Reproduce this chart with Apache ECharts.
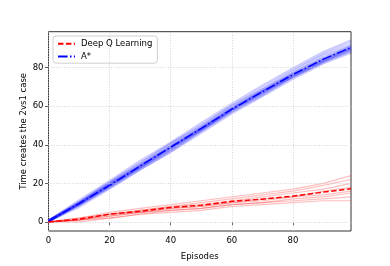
<!DOCTYPE html>
<html>
<head>
<meta charset="utf-8">
<script src="https://cdn.jsdelivr.net/npm/echarts@6/dist/echarts.min.js"></script>
<style>html,body{margin:0;padding:0;background:#fff}#c{width:390px;height:266px}</style>
</head>
<body>
<div id="c"></div>
<script>
const episodes = [0, 10, 20, 30, 40, 50, 60, 70, 80, 90, 99];
const xTicks = [0, 20, 40, 60, 80];
const yTicks = [0, 20, 40, 60, 80];

const dqnMean = [0, 1.5, 4, 5.5, 7.5, 8.7, 10.7, 11.8, 13.4, 15.5, 17.2];
const dqnRun1 = [0, 2, 5, 7, 9, 11, 13, 15, 17, 20, 24];
const dqnRun2 = [0, 1, 4, 6, 8, 10, 12, 14, 16, 19, 22];
const dqnRun3 = [0, 2, 4, 6, 8, 9, 11, 13, 15, 17, 20];
const dqnRun4 = [0, 1, 3, 5, 7, 8, 10, 12, 13, 16, 18];
const dqnRun5 = [0, 1, 4, 5, 7, 8, 10, 11, 13, 14, 16];
const dqnRun6 = [0, 1, 3, 5, 6, 7, 9, 10, 12, 13, 15];
const dqnRun7 = [0, 1, 2, 4, 6, 7, 9, 10, 11, 12, 13];
const dqnRun8 = [0, 0, 2, 4, 5, 6, 8, 9, 10, 11, 11];

const astarMean = [0.5, 9.5, 19, 29, 38.8, 48.5, 58.5, 67.5, 76.5, 84.5, 90.5];
const astarRun1 = [0.5, 11, 21, 31.5, 41, 51, 61, 70.5, 79.5, 88, 94];
const astarRun2 = [0.5, 10, 20.5, 30, 40.5, 49.5, 60, 68.5, 78, 86.5, 92];
const astarRun3 = [0.5, 9.5, 19.5, 29.5, 39, 49, 59, 68.5, 77, 85, 91];
const astarRun4 = [0.5, 9.5, 19, 29, 38.5, 48.5, 58.5, 67.5, 76.5, 84.5, 90.5];
const astarRun5 = [0.5, 9, 18.5, 28.5, 38, 48, 58, 67, 76, 84, 89.5];
const astarRun6 = [0.5, 8, 17.5, 27.5, 36.5, 46.5, 56.5, 65.5, 74.5, 82.5, 88];
const astarRun7 = [0.5, 9, 18, 27.5, 37, 47.5, 57.5, 66, 75.5, 83, 89];
const astarRun8 = [0.5, 10, 19.5, 28.5, 39, 48, 58.5, 67.5, 75.5, 83.5, 90];

const dqnRuns = [dqnRun1, dqnRun2, dqnRun3, dqnRun4, dqnRun5, dqnRun6, dqnRun7, dqnRun8];
const astarRuns = [astarRun1, astarRun2, astarRun3, astarRun4, astarRun5, astarRun6, astarRun7, astarRun8];

const pair = arr => episodes.map((e, i) => [e, arr[i]]);
const FONT = 'DejaVu Sans';
const FS = 8.5;

const series = [];
series.push({
  type: 'line', data: [], silent: true, z: 1,
  markLine: {
    silent: true, symbol: 'none', label: {show: false},
    lineStyle: {color: '#c8c8c8', type: [1, 1.6], width: 0.8},
    data: xTicks.map(v => ({xAxis: v})).concat(yTicks.map(v => ({yAxis: v})))
  }
});
astarRuns.forEach(r => series.push({
  type: 'line', data: pair(r), showSymbol: false, silent: true, z: 2,
  lineStyle: {color: 'rgba(0,0,255,0.2)', width: 3}
}));
dqnRuns.forEach(r => series.push({
  type: 'line', data: pair(r), showSymbol: false, silent: true, z: 2,
  lineStyle: {color: 'rgba(255,0,0,0.25)', width: 1.2}
}));
series.push({
  name: 'Deep Q Learning', type: 'line', data: pair(dqnMean), showSymbol: false, z: 5,
  itemStyle: {color: '#ff0000'},
  lineStyle: {color: '#ff0000', width: 1.5, type: [5.5, 2.4]}
});
series.push({
  name: 'A*', type: 'line', data: pair(astarMean), showSymbol: false, z: 5,
  itemStyle: {color: '#0000ff'},
  lineStyle: {color: '#0000ff', width: 1.5, type: [9.6, 2.4, 1.5, 2.4]}
});

const chart = echarts.init(document.getElementById('c'), null, {renderer: 'canvas'});
chart.setOption({
  animation: false,
  backgroundColor: '#fff',
  grid: {left: 48.5, right: 39, top: 31.7, bottom: 30, show: true, borderColor: '#333', borderWidth: 1, backgroundColor: 'transparent'},
  legend: {
    data: ['Deep Q Learning', 'A*'], orient: 'vertical', left: 53, top: 36,
    backgroundColor: 'rgba(255,255,255,0.85)', borderColor: '#d0d0d0', borderWidth: 1, borderRadius: 3,
    padding: [3, 5, 2, 4], itemGap: 3, itemWidth: 17, itemHeight: 9.5,
    itemStyle: {opacity: 0},
    textStyle: {fontFamily: FONT, fontSize: FS, color: '#000', padding: [0, 0, 0, 1]}
  },
  xAxis: {
    type: 'value', min: 0, max: 99,
    name: 'Episodes', nameLocation: 'middle', nameGap: 21,
    nameTextStyle: {fontFamily: FONT, fontSize: FS, color: '#000'},
    axisLine: {show: false},
    axisTick: {show: true, inside: false, length: 3.5, lineStyle: {color: '#333', width: 0.8}, customValues: xTicks},
    axisLabel: {fontFamily: FONT, fontSize: FS, color: '#000', margin: 5, customValues: xTicks},
    splitLine: {show: false}
  },
  yAxis: {
    type: 'value', min: -4.7, max: 98.7,
    name: 'Time creates the 2vs1 case', nameLocation: 'middle', nameGap: 20, nameRotate: 90,
    nameMoveOverlap: false,
    nameTextStyle: {fontFamily: FONT, fontSize: FS, color: '#000'},
    axisLine: {show: false},
    axisTick: {show: true, inside: false, length: 3.5, lineStyle: {color: '#333', width: 0.8}, customValues: yTicks},
    axisLabel: {fontFamily: FONT, fontSize: FS, color: '#000', margin: 5, customValues: yTicks},
    splitLine: {show: false}
  },
  series: series
});
</script>
</body>
</html>
